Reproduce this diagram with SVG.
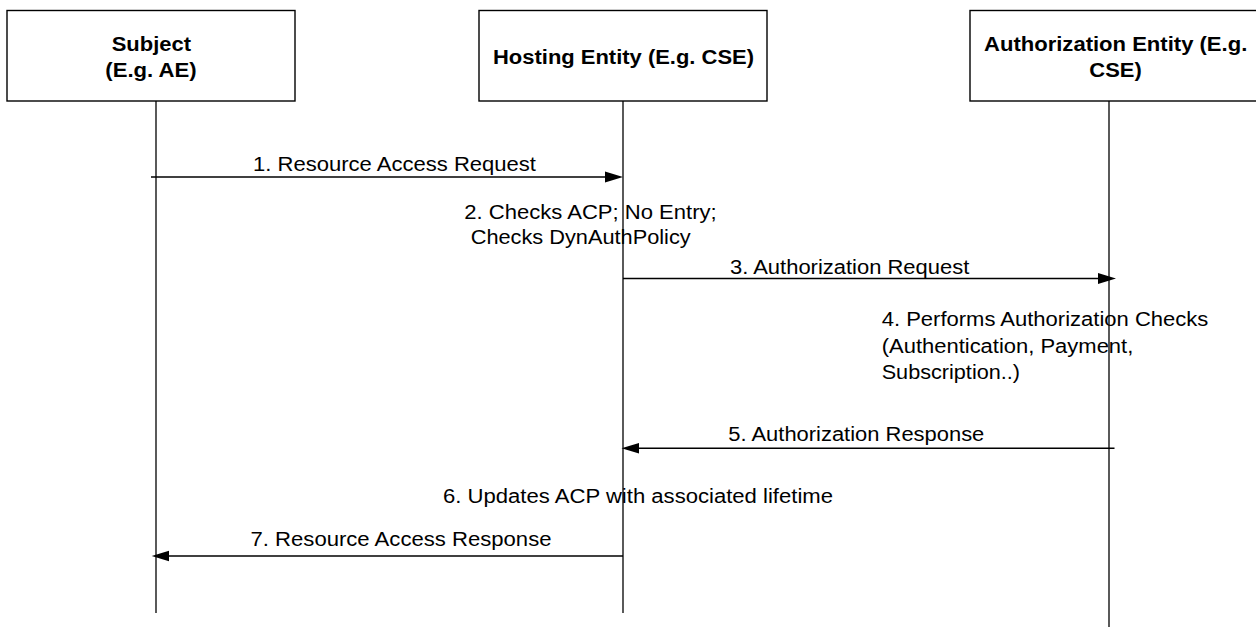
<svg xmlns="http://www.w3.org/2000/svg" width="1256" height="627" viewBox="0 0 1256 627">
<style>
.box{fill:#fff;stroke:#000;stroke-width:1.4}
.life{stroke:#000;stroke-width:1.3;fill:none}
.msg{stroke:#000;stroke-width:1.4;fill:none}
.head{fill:#000;stroke:none}
.t{font-family:"Liberation Sans",Arial,sans-serif;font-size:19.5px;fill:#000}
.b{font-family:"Liberation Sans",Arial,sans-serif;font-size:19.5px;font-weight:bold;fill:#000}
</style>
<rect width="1256" height="627" fill="#fff"/>
<g id="subject">
<rect class="box" x="7" y="10.5" width="288" height="90.5"/>
<text class="b" x="111.7" y="50.5" textLength="79.3" lengthAdjust="spacingAndGlyphs">Subject</text>
<text class="b" x="105.3" y="76.5" textLength="91.4" lengthAdjust="spacingAndGlyphs">(E.g. AE)</text>
<line class="life" x1="156" y1="101" x2="156" y2="613"/>
</g>
<g id="hosting">
<rect class="box" x="479" y="10.5" width="288" height="90.5"/>
<text class="b" x="493" y="63.5" textLength="261" lengthAdjust="spacingAndGlyphs">Hosting Entity (E.g. CSE)</text>
<line class="life" x1="623" y1="101" x2="623" y2="613"/>
</g>
<g id="authorization">
<rect class="box" x="970" y="10.5" width="292" height="90.5"/>
<text class="b" x="984" y="50.5" textLength="263.3" lengthAdjust="spacingAndGlyphs">Authorization Entity (E.g.</text>
<text class="b" x="1089.3" y="76.5" textLength="52.4" lengthAdjust="spacingAndGlyphs">CSE)</text>
<line class="life" x1="1109" y1="101" x2="1109" y2="627"/>
</g>
<g id="notes">
<text class="t" x="464.3" y="218.5" textLength="252.4" lengthAdjust="spacingAndGlyphs">2. Checks ACP; No Entry;</text>
<text class="t" x="470.7" y="244" textLength="220" lengthAdjust="spacingAndGlyphs">Checks DynAuthPolicy</text>
<text class="t" x="881.7" y="326" textLength="326.6" lengthAdjust="spacingAndGlyphs">4. Performs Authorization Checks</text>
<text class="t" x="881.7" y="352.5" textLength="251.6" lengthAdjust="spacingAndGlyphs">(Authentication, Payment,</text>
<text class="t" x="881.7" y="379" textLength="138.3" lengthAdjust="spacingAndGlyphs">Subscription..)</text>
<text class="t" x="443" y="503" textLength="390" lengthAdjust="spacingAndGlyphs">6. Updates ACP with associated lifetime</text>
</g>
<g id="connectors">
<line class="msg" x1="151" y1="177" x2="607" y2="177"/>
<polygon class="head" points="623,177 605,171.5 605,182.5"/>
<text class="t" x="253" y="171" textLength="283" lengthAdjust="spacingAndGlyphs">1. Resource Access Request</text>
<line class="msg" x1="623" y1="278.5" x2="1100" y2="278.5"/>
<polygon class="head" points="1116,278.5 1098,273 1098,284"/>
<text class="t" x="730" y="273.5" textLength="239.3" lengthAdjust="spacingAndGlyphs">3. Authorization Request</text>
<line class="msg" x1="1114.5" y1="448.3" x2="637" y2="448.3"/>
<polygon class="head" points="621.5,448.3 639,443 639,453.6"/>
<text class="t" x="728.3" y="440.5" textLength="256" lengthAdjust="spacingAndGlyphs">5. Authorization Response</text>
<line class="msg" x1="623" y1="556" x2="167" y2="556"/>
<polygon class="head" points="151.7,556 169,550.7 169,561.3"/>
<text class="t" x="250.5" y="545.5" textLength="301" lengthAdjust="spacingAndGlyphs">7. Resource Access Response</text>
</g>
</svg>
